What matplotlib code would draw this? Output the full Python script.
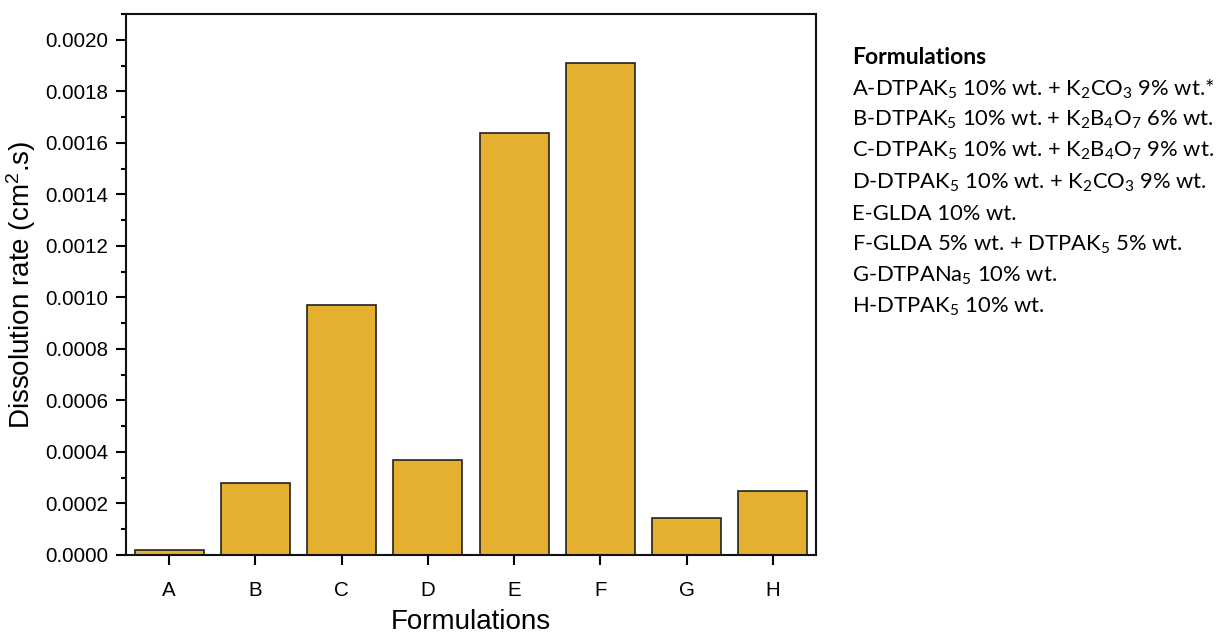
import matplotlib
matplotlib.use("Agg")
import matplotlib.pyplot as plt
from matplotlib.ticker import MultipleLocator, FormatStrFormatter

plt.rcParams['mathtext.default'] = 'regular'

categories = ['A', 'B', 'C', 'D', 'E', 'F', 'G', 'H']
dissolution_rate = [0.0000205, 0.000281, 0.000971, 0.000370, 0.001638, 0.001911, 0.000142, 0.000250]

legend_title = 'Formulations'
legend_lines = [
    r'A-DTPAK$_5$ 10% wt. + K$_2$CO$_3$ 9% wt.*',
    r'B-DTPAK$_5$ 10% wt. + K$_2$B$_4$O$_7$ 6% wt.',
    r'C-DTPAK$_5$ 10% wt. + K$_2$B$_4$O$_7$ 9% wt.',
    r'D-DTPAK$_5$ 10% wt. + K$_2$CO$_3$ 9% wt.',
    'E-GLDA 10% wt.',
    r'F-GLDA 5% wt. + DTPAK$_5$ 5% wt.',
    r'G-DTPANa$_5$ 10% wt.',
    r'H-DTPAK$_5$ 10% wt.',
]

fig = plt.figure(figsize=(12.16, 6.33), dpi=100)
ax = fig.add_axes([126/1216, 1-555/633, (816-126)/1216, (555-14)/633])

x = list(range(len(categories)))
ax.bar(x, dissolution_rate, width=0.8, color='#E5B02F', edgecolor='#222222', linewidth=1.2)
ax.set_xlim(-0.5, 7.5)
ax.set_ylim(0, 0.0021)
ax.set_xticks(x)
ax.set_xticklabels(categories)
ax.yaxis.set_major_locator(MultipleLocator(0.0002))
ax.yaxis.set_minor_locator(MultipleLocator(0.0001))
ax.yaxis.set_major_formatter(FormatStrFormatter('%.4f'))

for s in ax.spines.values():
    s.set_linewidth(1.5)
    s.set_color('#111111')

ax.tick_params(axis='both', which='major', direction='out', length=7, width=1.5, pad=6)
ax.tick_params(axis='y', which='minor', direction='out', length=3.5, width=1.5)
ax.tick_params(axis='x', which='major', pad=12)
for lab in ax.get_xticklabels() + ax.get_yticklabels():
    lab.set_fontfamily('Liberation Sans')
    lab.set_fontsize(14.8)

ax.set_xlabel('Formulations', family='Liberation Sans', fontsize=20, labelpad=6)
ax.set_ylabel(r'Dissolution rate (cm$^2$.s)', family='Liberation Sans', fontsize=20)
ax.yaxis.set_label_coords(-0.127, 0.5)

y0 = 1 - 58/633
dy = 31.1/633
fig.text(852/1216, y0, legend_title, family='Lato', fontweight='bold', fontsize=16.5, va='center', ha='left')
for i, line in enumerate(legend_lines):
    fig.text(852/1216, y0 - (i+1)*dy, line, family='Lato', fontsize=15.8, va='center', ha='left')

fig.savefig('out.png', dpi=100)
